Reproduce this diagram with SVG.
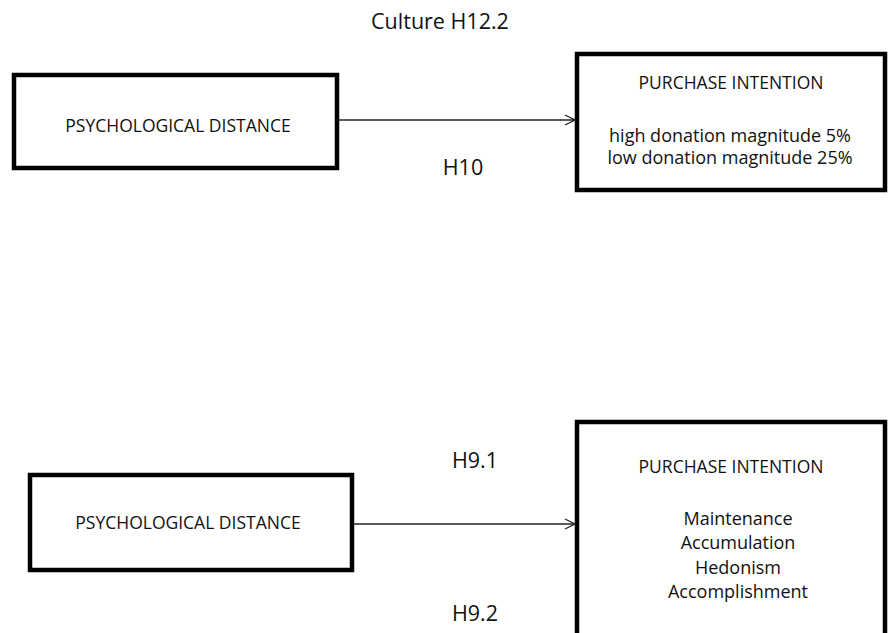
<svg xmlns="http://www.w3.org/2000/svg" width="888" height="633" viewBox="0 0 888 633">
<style>
.box{fill:#fff;stroke:#000;stroke-width:4.5}
.t{font-family:"Open Sans","Liberation Sans",sans-serif;font-size:18px;fill:#111;text-anchor:middle}
.cap{font-size:17.5px}
.lb{font-size:21.5px}
.c{fill:none;stroke:#222;stroke-width:1.3}
</style>
<defs>
<marker id="arr" viewBox="0 0 12 12" refX="11" refY="6" markerWidth="12" markerHeight="12" markerUnits="userSpaceOnUse" orient="auto">
<path d="M1,1 L11,6 L1,11" fill="none" stroke="#222" stroke-width="1.3"/>
</marker>
</defs>
<rect width="888" height="633" fill="#fff"/>
<text class="t lb" x="440" y="29">Culture H12.2</text>
<g id="pd1">
<rect class="box" x="14" y="75" width="323" height="93"/>
<text class="t cap" x="178" y="132">PSYCHOLOGICAL DISTANCE</text>
</g>
<g id="pi1">
<rect class="box" x="577" y="54" width="308" height="136"/>
<text class="t cap" x="731" y="89">PURCHASE INTENTION</text>
<text class="t" x="730" y="142">high donation magnitude 5%</text>
<text class="t" x="730" y="164">low donation magnitude 25%</text>
</g>
<g id="pd2">
<rect class="box" x="30" y="475" width="322" height="95"/>
<text class="t cap" x="188" y="529">PSYCHOLOGICAL DISTANCE</text>
</g>
<g id="pi2">
<rect class="box" x="577" y="422" width="308" height="230"/>
<text class="t cap" x="731" y="473">PURCHASE INTENTION</text>
<text class="t" x="738" y="525">Maintenance</text>
<text class="t" x="738" y="549">Accumulation</text>
<text class="t" x="738" y="574">Hedonism</text>
<text class="t" x="738" y="598">Accomplishment</text>
</g>
<g id="connectors">
<line class="c" x1="339" y1="120" x2="575" y2="120" marker-end="url(#arr)"/>
<line class="c" x1="354" y1="524" x2="575" y2="524" marker-end="url(#arr)"/>
</g>
<g id="labels">
<text class="t lb" x="463" y="175">H10</text>
<text class="t lb" x="475" y="468">H9.1</text>
<text class="t lb" x="475" y="621">H9.2</text>
</g>
</svg>
